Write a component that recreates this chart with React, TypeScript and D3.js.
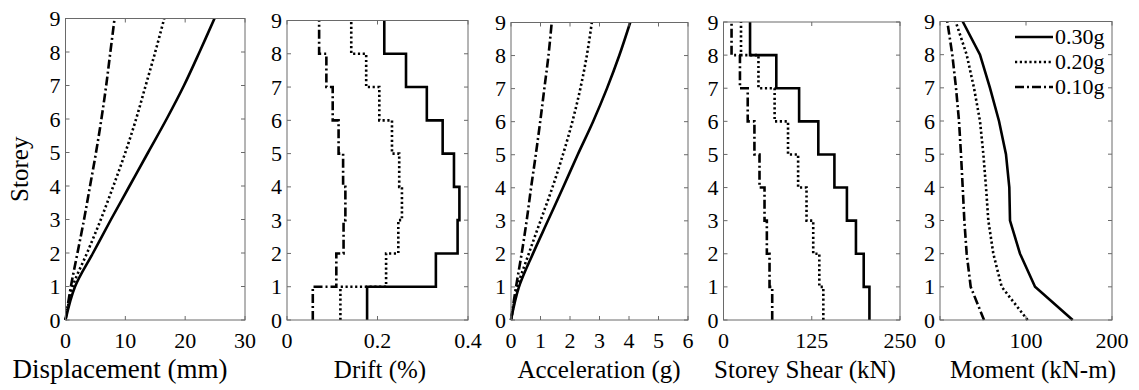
import React from "react";
import * as d3 from "d3";

// ---------- data ----------
const storeys = [0, 1, 2, 3, 4, 5, 6, 7, 8, 9];
const seriesNames = ["0.30g", "0.20g", "0.10g"];

// Displacement (mm) at each storey level
const disp30 = [0, 1.6, 4.6, 7.6, 10.7, 13.8, 16.9, 19.8, 22.4, 24.9];
const disp20 = [0, 1.2, 3.6, 5.9, 8.0, 10.0, 11.8, 13.4, 15.0, 16.5];
const disp10 = [0, 0.9, 2.0, 3.1, 4.1, 5.1, 6.0, 6.8, 7.5, 8.2];

// Inter-storey drift (%) for storeys 1..9 (interval i -> i+1)
const drift30 = [0.177, 0.329, 0.377, 0.381, 0.369, 0.344, 0.309, 0.263, 0.215];
const drift20 = [0.118, 0.219, 0.246, 0.254, 0.248, 0.232, 0.204, 0.175, 0.142];
const drift10 = [0.057, 0.109, 0.125, 0.129, 0.124, 0.114, 0.101, 0.087, 0.071];

// Acceleration (g) at each storey level
const acc30 = [0, 0.27, 0.74, 1.25, 1.76, 2.26, 2.78, 3.25, 3.67, 4.04];
const acc20 = [0, 0.22, 0.6, 1.0, 1.4, 1.76, 2.08, 2.35, 2.57, 2.74];
const acc10 = [0, 0.17, 0.36, 0.53, 0.68, 0.84, 0.99, 1.13, 1.27, 1.38];

// Storey shear (kN) per storey interval
const shear30 = [206.7, 198.6, 187.6, 174.8, 157.1, 134.3, 107.1, 74.8, 37.6];
const shear20 = [141.4, 135.7, 127.1, 117.6, 105.7, 91.4, 72.4, 49.5, 24.8];
const shear10 = [69.0, 65.2, 61.4, 58.1, 51.0, 43.8, 34.3, 23.3, 11.4];

// Moment (kN-m) at each storey level
const mom30 = [154.3, 110.5, 93.0, 81.4, 80.6, 76.7, 68.6, 58.1, 46.5, 26.4];
const mom20 = [101.9, 71.7, 62.0, 56.2, 53.5, 50.4, 46.5, 39.5, 31.0, 18.2];
const mom10 = [51.2, 35.7, 31.0, 28.3, 26.4, 24.4, 22.1, 18.6, 14.3, 8.5];

const dispTicks = [0, 10, 20, 30];
const driftTicks = [0, 0.2, 0.4];
const accTicks = [0, 1, 2, 3, 4, 5, 6];
const shearTicks = [0, 125, 250];
const momTicks = [0, 100, 200];
const storeyTicks = [0, 1, 2, 3, 4, 5, 6, 7, 8, 9];

// ---------- styles ----------
const FONT = "Times New Roman, Liberation Serif, DejaVu Serif, serif";
const dashes = ["none", "2.2,2.6", "9,3,2,3"];
const frameColor = "#6a6a6a";

type Panel = {
  label: string;
  domain: [number, number];
  ticks: number[];
  kind: "curve" | "step" | "linear";
  series: number[][];
  left: number;
  right: number;
  top: number;
  labelX: number;
  labelSize: number;
};

const panels: Panel[] = [
  { label: "Displacement (mm)", domain: [0, 30], ticks: dispTicks, kind: "curve", series: [disp30, disp20, disp10], left: 65.5, right: 245, top: 18.5, labelX: 120, labelSize: 27 },
  { label: "Drift (%)", domain: [0, 0.4], ticks: driftTicks, kind: "step", series: [drift30, drift20, drift10], left: 287, right: 468, top: 20.5, labelX: 380, labelSize: 25 },
  { label: "Acceleration (g)", domain: [0, 6], ticks: accTicks, kind: "curve", series: [acc30, acc20, acc10], left: 511, right: 688, top: 22.5, labelX: 599, labelSize: 25 },
  { label: "Storey Shear (kN)", domain: [0, 250], ticks: shearTicks, kind: "step", series: [shear30, shear20, shear10], left: 723.5, right: 900, top: 22, labelX: 805, labelSize: 25 },
  { label: "Moment (kN-m)", domain: [0, 200], ticks: momTicks, kind: "linear", series: [mom30, mom20, mom10], left: 940, right: 1112, top: 21.5, labelX: 1033, labelSize: 25 },
];

const BOTTOM = 320;

function PanelView({ p, idx }: { p: Panel; idx: number }) {
  const x = d3.scaleLinear().domain(p.domain).range([p.left, p.right]);
  const y = d3.scaleLinear().domain([0, 9]).range([BOTTOM, p.top]);
  const tl = 4;

  const paths = p.series.map((s) => {
    let pts: [number, number][];
    if (p.kind === "step") {
      pts = [];
      s.forEach((v, i) => {
        pts.push([v, storeys[i]]);
        pts.push([v, storeys[i + 1]]);
      });
    } else {
      pts = s.map((v, i) => [v, storeys[i]]);
    }
    const line = d3
      .line<[number, number]>()
      .x((d) => x(d[0]))
      .y((d) => y(d[1]))
      .curve(p.kind === "curve" ? d3.curveCatmullRom.alpha(0.5) : d3.curveLinear);
    return line(pts) || "";
  });

  const fmt = (v: number) => (v === 0 ? "0" : String(v));
  const textStyle = { fontFamily: FONT } as React.CSSProperties;

  return (
    <g>
      {paths.map((d, i) => (
        <path
          key={i}
          d={d}
          fill="none"
          stroke="#000"
          strokeWidth={2.6}
          strokeDasharray={dashes[i]}
          strokeLinejoin="miter"
        />
      ))}
      <rect x={p.left} y={p.top} width={p.right - p.left} height={BOTTOM - p.top} fill="none" stroke={frameColor} strokeWidth={1} />
      {p.ticks.map((t) => (
        <g key={"xt" + t}>
          <line x1={x(t)} x2={x(t)} y1={BOTTOM} y2={BOTTOM - tl} stroke={frameColor} />
          <line x1={x(t)} x2={x(t)} y1={p.top} y2={p.top + tl} stroke={frameColor} />
          <text x={x(t)} y={348} textAnchor="middle" fontSize={22} style={textStyle} fill="#000">
            {fmt(t)}
          </text>
        </g>
      ))}
      {storeyTicks.map((t) => (
        <g key={"yt" + t}>
          <line x1={p.left} x2={p.left + tl} y1={y(t)} y2={y(t)} stroke={frameColor} />
          <line x1={p.right} x2={p.right - tl} y1={y(t)} y2={y(t)} stroke={frameColor} />
          <text x={p.left - 5} y={y(t) + 7.5} textAnchor="end" fontSize={22} style={textStyle} fill="#000">
            {t}
          </text>
        </g>
      ))}
      <text x={p.labelX} y={378} textAnchor="middle" fontSize={p.labelSize} style={textStyle} fill="#000">
        {p.label}
      </text>
      {idx === 0 && (
        <text
          transform={`translate(${28},${(BOTTOM + p.top) / 2}) rotate(-90)`}
          textAnchor="middle"
          fontSize={25}
          style={textStyle}
          fill="#000"
        >
          Storey
        </text>
      )}
      {idx === panels.length - 1 &&
        seriesNames.map((n, i) => {
          const ly = 37 + i * 25;
          return (
            <g key={n}>
              <line x1={1015} x2={1053} y1={ly} y2={ly} stroke="#000" strokeWidth={2.6} strokeDasharray={dashes[i]} />
              <text x={1055} y={ly + 7} fontSize={22} style={textStyle} fill="#000">
                {n}
              </text>
            </g>
          );
        })}
    </g>
  );
}

export default function App() {
  return (
    <svg
      width={1139}
      height={390}
      style={{ position: "absolute", left: 0, top: 0, background: "#fff" }}
    >
      <rect width={1139} height={390} fill="#fff" />
      {panels.map((p, i) => (
        <PanelView key={i} p={p} idx={i} />
      ))}
    </svg>
  );
}
